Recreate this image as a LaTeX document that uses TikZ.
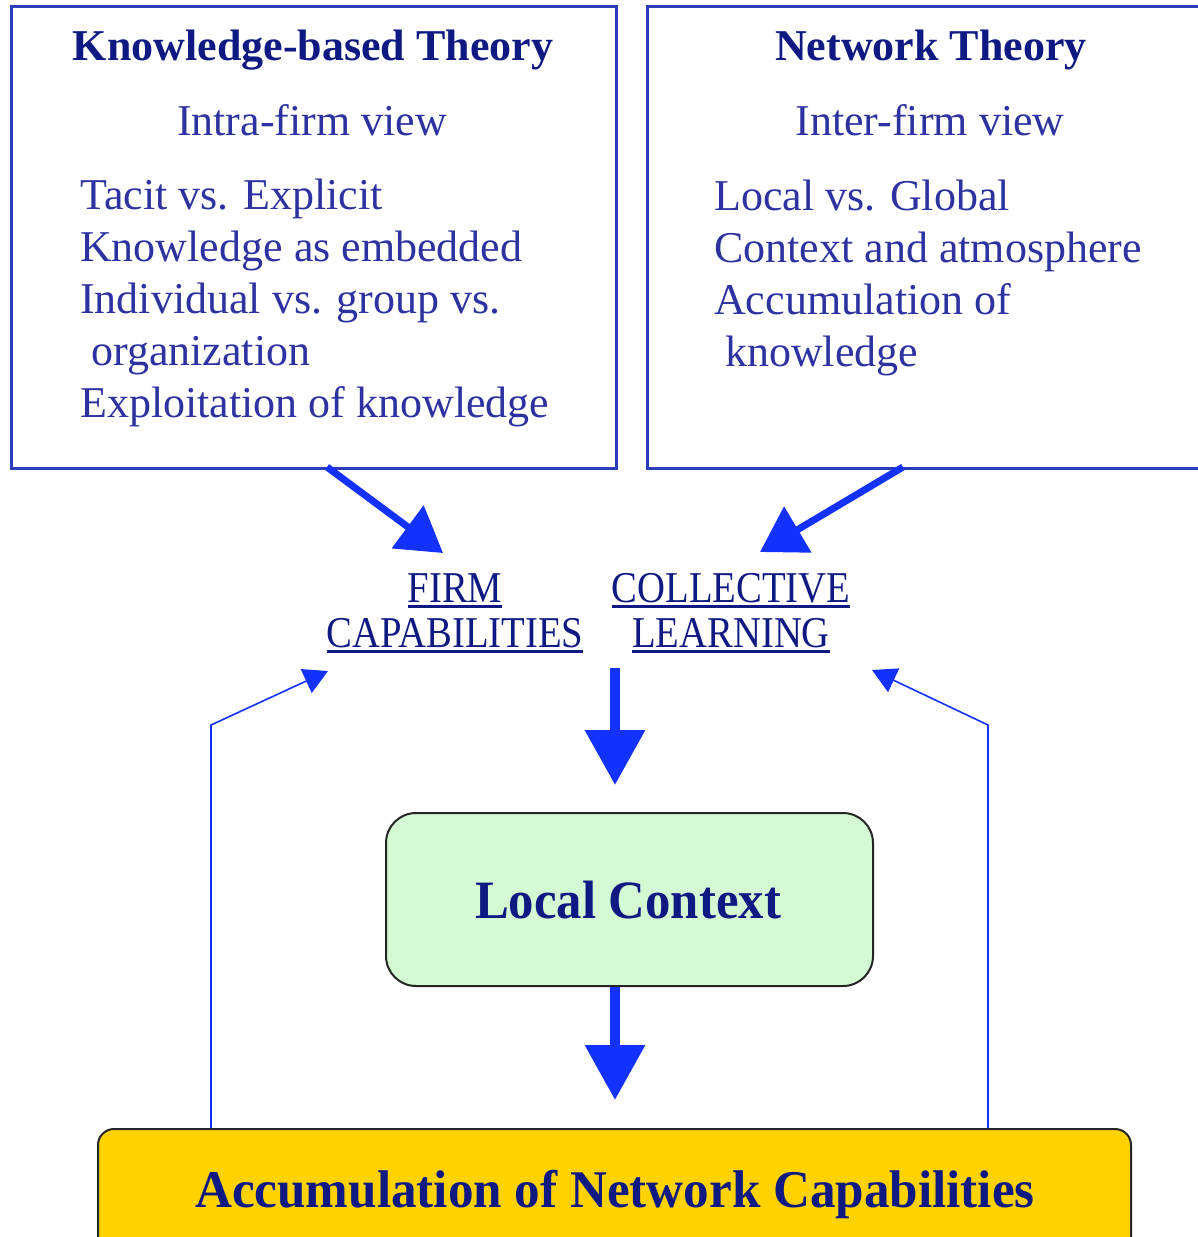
\documentclass[tikz,border=0pt]{standalone}
\usepackage{fontspec}
\setmainfont{Liberation Serif}
\newfontfamily\labfont[FakeStretch=0.88]{Liberation Serif}
\newfontfamily\boxfont[FakeStretch=0.94]{Liberation Serif}
\newfontfamily\accfont[FakeStretch=0.965]{Liberation Serif}
\usetikzlibrary{arrows.meta,calc}
\definecolor{boxblue}{RGB}{45,60,185}
\definecolor{textblue}{RGB}{45,50,160}
\definecolor{titleblue}{RGB}{15,25,130}
\definecolor{arrowblue}{RGB}{20,50,255}
\definecolor{lightgreen}{RGB}{212,250,212}
\definecolor{goldfill}{RGB}{255,210,0}
\newcommand\myul[1]{\setbox0\hbox{#1}\leavevmode\rlap{\vrule height -3pt depth 6pt width \wd0}\box0}
\tikzset{
  theorybox/.style={draw=boxblue, line width=2.5pt, rectangle, inner sep=0pt},
  boxtitle/.style={font=\fontsize{44}{52}\selectfont\bfseries, text=titleblue, inner sep=0pt, anchor=base},
  boxsub/.style={font=\fontsize{44}{52}\selectfont, text=textblue, inner sep=0pt, anchor=base},
  boxlines/.style={font=\fontsize{44}{52}\selectfont, text=textblue, inner sep=0pt, align=left, anchor=base west},
  linklabel/.style={font=\labfont\fontsize{44}{45}\selectfont, text=titleblue, inner sep=0pt, align=center, anchor=base},
  roundbox/.style={draw=black!85, line width=2pt, rounded corners=#1, inner sep=0pt},
  bigarrow/.style={draw=arrowblue, line width=7pt, -{Triangle[length=44pt,width=52pt]}},
  downarrow/.style={draw=arrowblue, line width=10pt, -{Triangle[length=55pt,width=58pt]}},
  feedback/.style={draw=arrowblue, line width=1.6pt, -{Triangle[length=24pt,width=26pt]}}
}
\begin{document}
\begin{tikzpicture}[x=1pt,y=-1pt]
\useasboundingbox (0,0) rectangle (1198,1237);
% top boxes
\node[theorybox, minimum width=605, minimum height=462, anchor=north west] (kbt) at (10,5) {};
\node[theorybox, minimum width=568, minimum height=462, anchor=north west] (nt) at (646,5) {};
% left box text
\node[boxtitle] (kbttitle) at (313,60) {Knowledge-based Theory};
\node[boxsub] (kbtsub) at (312,135) {Intra-firm view};
\node[boxlines] (kbtlist) at (80,417) {Tacit vs. Explicit\\Knowledge as embedded\\Individual vs. group vs.\\\hspace*{11pt}organization\\Exploitation of knowledge};
% right box text
\node[boxtitle] (nttitle) at (931,60) {Network Theory};
\node[boxsub] (ntsub) at (930,135) {Inter-firm view};
\node[boxlines] (ntlist) at (714,366) {Local vs. Global\\Context and atmosphere\\Accumulation of\\\hspace*{11pt}knowledge};
% link labels
\node[linklabel] (fc) at (455,647) {\myul{FIRM}\\\myul{CAPABILITIES}};
\node[linklabel] (cl) at (731,647) {\myul{COLLECTIVE}\\\myul{LEARNING}};
% local context
\node[roundbox=30pt, fill=lightgreen, minimum width=487, minimum height=173, anchor=north west] (lc) at (385,812) {};
\node[font=\boxfont\fontsize{54}{60}\selectfont\bfseries, text=titleblue, inner sep=0pt] (lctext) at (628,900) {Local Context};
% accumulation box
\node[roundbox=16pt, fill=goldfill, minimum width=1033, minimum height=140, anchor=north west] (acc) at (97,1128) {};
\node[font=\accfont\fontsize{53}{60}\selectfont\bfseries, text=titleblue, inner sep=0pt] (acctext) at (615,1194) {Accumulation of Network Capabilities};
% arrow coordinates
\coordinate (kbtout) at (327,467);
\coordinate (fctip) at (443,553);
\coordinate (ntout) at (903,467);
\coordinate (cltip) at (760,552);
\coordinate (midtop) at (615,668);
\coordinate (lctip) at (615,785);
\coordinate (acctip) at (615,1100);
\coordinate (fbL) at (211,725);
\coordinate (fbLtip) at (328,671);
\coordinate (fbR) at (988,725);
\coordinate (fbRtip) at (872,670);
% arrows
\draw[bigarrow] (kbtout) -- (fctip);
\draw[bigarrow] (ntout) -- (cltip);
\draw[downarrow] (midtop) -- (lctip);
\draw[downarrow] (lc.south -| acctip) -- (acctip);
\draw[feedback] (acc.north -| fbL) -- (fbL) -- (fbLtip);
\draw[feedback] (acc.north -| fbR) -- (fbR) -- (fbRtip);
\end{tikzpicture}
\end{document}
